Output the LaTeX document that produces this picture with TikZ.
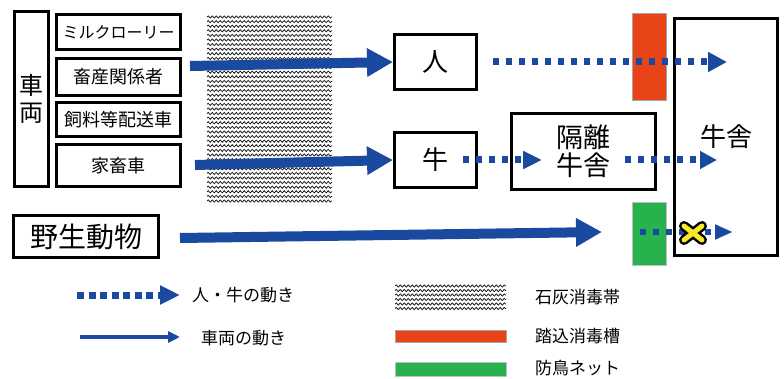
\documentclass[tikz,border=0pt]{standalone}
\usepackage{fontspec}
\setmainfont{Noto Sans CJK JP}
\usetikzlibrary{arrows.meta,decorations.pathmorphing,calc}
\definecolor{flowblue}{RGB}{26,74,160}
\definecolor{bathred}{RGB}{232,68,24}
\definecolor{netgreen}{RGB}{40,178,78}
\definecolor{xyellow}{RGB}{248,232,40}
\newcommand{\fs}[1]{\fontsize{#1}{#1}\selectfont}
\tikzset{
  box/.style={draw=black, line width=3pt, inner sep=0pt, align=center},
  vehArrow/.style={draw=flowblue, line width=10pt, -{Triangle[length=26pt,width=27pt]}},
  dotArrow/.style={draw=flowblue, line width=7pt, dash pattern=on 6pt off 7pt, -{Triangle[length=19pt,width=19pt]}},
  lime/.style={draw=black!90, line width=0.75pt, decorate, decoration={snake, segment length=4pt, amplitude=1.1pt}},
  swatch/.style={draw=black!40, line width=0.8pt}
}
\begin{document}
\begin{tikzpicture}[x=1pt,y=-1pt]
\useasboundingbox (0,0) rectangle (784,379);
% lime disinfection band
\foreach \yy in {17,21.6,...,204} {\draw[lime] (207,\yy) -- (332,\yy);}
% vehicle boxes
\node[box, font=\fs{24}, minimum width=34pt, minimum height=175pt] (kuruma) at (31.5,99) {車\\[3pt]両};
\node[box, font=\fs{16}, minimum width=124pt, minimum height=35pt] (milk) at (118.5,32) {ミルクローリー};
\node[box, font=\fs{18}, minimum width=124pt, minimum height=37pt] (chiku) at (118.5,77) {畜産関係者};
\node[box, font=\fs{18}, minimum width=124pt, minimum height=34pt] (shiryo) at (118.5,119.5) {飼料等配送車};
\node[box, font=\fs{18}, minimum width=124pt, minimum height=42pt] (kachiku) at (118.5,165.5) {家畜車};
\node[box, font=\fs{28}, minimum width=145pt, minimum height=42pt] (yasei) at (86,237) {野生動物};
% middle boxes
\node[box, font=\fs{26}, minimum width=82pt, minimum height=55pt] (hito) at (435.5,62) {人};
\node[box, font=\fs{26}, minimum width=82pt, minimum height=55pt] (ushi) at (435.5,160) {牛};
\node[box, font=\fs{27}, minimum width=144pt, minimum height=76pt] (kakuri) at (583.5,151.5) {隔離\\[1pt]牛舎};
\node[box, font=\fs{26}, line width=2.5pt, minimum width=103pt, minimum height=237pt] (gyusha) at (726,137) {牛舎};
% barriers
\fill[bathred, draw=black!35, line width=0.8pt] (632,13) rectangle (666,100);
\fill[netgreen, draw=black!25, line width=0.8pt] (632,202) rectangle (666,265);
% coordinates
\coordinate (v1s) at (190,66);
\coordinate (v2s) at (195,165);
\coordinate (w1s) at (180,238);
\coordinate (w1e) at (602,232);
\coordinate (h1s) at (493,62);
\coordinate (h1e) at (727,62);
\coordinate (u1s) at (463,160);
\coordinate (u1e) at (542,160);
\coordinate (u2s) at (625,160);
\coordinate (u2e) at (717,160);
\coordinate (g1s) at (640,232);
\coordinate (g1e) at (733,232);
% vehicle arrows
\draw[vehArrow] (v1s) -- (hito.west);
\draw[vehArrow] (v2s) -- (ushi.west);
\draw[vehArrow] (w1s) -- (w1e);
% dotted arrows
\draw[dotArrow] (h1s) -- (h1e);
\draw[dotArrow, -{Triangle[length=19pt,width=17pt]}] (u1s) -- (u1e);
\draw[dotArrow, -{Triangle[length=17pt,width=17pt]}] (u2s) -- (u2e);
\draw[dotArrow, line width=6pt, -{Triangle[length=18pt,width=14pt]}] (g1s) -- (g1e);
% X mark
\node[inner sep=0pt, minimum size=2pt] (xmark) at (693,233) {};
\begin{scope}[shift={(xmark)}]
\draw[black, line width=10pt, line cap=round] (-9,-7) -- (9,7) (-9,7) -- (9,-7);
\draw[xyellow, line width=5pt, line cap=round] (-9,-7) -- (9,7) (-9,7) -- (9,-7);
\end{scope}
% legend
\coordinate (l1s) at (77,295);
\coordinate (l1e) at (180,295);
\coordinate (l2s) at (80,337);
\coordinate (l2e) at (180,337);
\draw[dotArrow, dash pattern=on 7pt off 4.5pt, -{Triangle[length=20pt,width=18pt]}] (l1s) -- (l1e);
\draw[draw=flowblue, line width=4pt, -{Triangle[length=12pt,width=11pt]}] (l2s) -- (l2e);
\node[anchor=west, inner sep=0pt, font=\fs{17}] (t1) at (192,295) {人・牛の動き};
\node[anchor=west, inner sep=0pt, font=\fs{17}] (t2) at (201,338) {車両の動き};
\foreach \yy in {286,290.5,...,310} {\draw[lime] (395,\yy) -- (506,\yy);}
\fill[bathred, draw=black!35, line width=0.8pt] (395,330) rectangle (506,342);
\fill[netgreen, draw=black!25, line width=0.8pt] (395,362) rectangle (506,376);
\node[anchor=west, inner sep=0pt, font=\fs{17}] (t3) at (535,297) {石灰消毒帯};
\node[anchor=west, inner sep=0pt, font=\fs{17}] (t4) at (535,336) {踏込消毒槽};
\node[anchor=west, inner sep=0pt, font=\fs{17}] (t5) at (535,368) {防鳥ネット};
\end{tikzpicture}
\end{document}
